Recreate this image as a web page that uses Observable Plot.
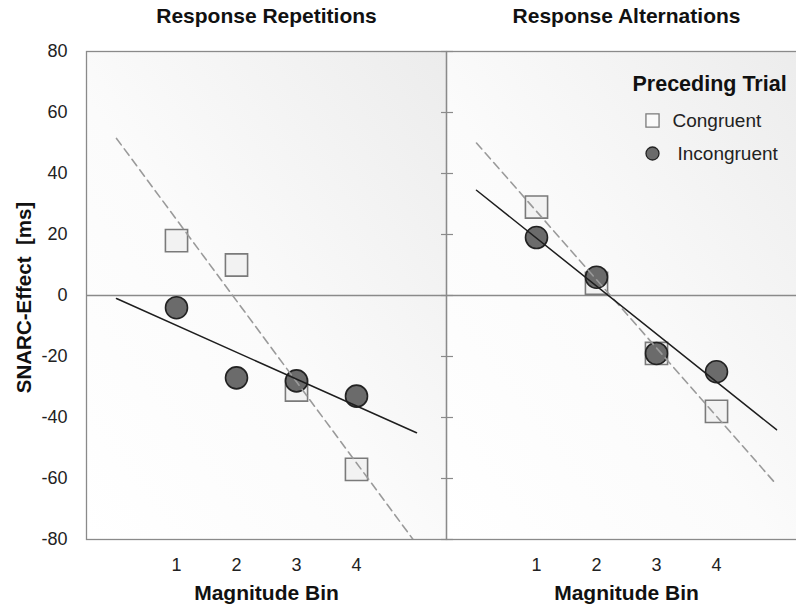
<!DOCTYPE html>
<html>
<head>
<meta charset="utf-8">
<script src="https://cdn.jsdelivr.net/npm/d3@7"></script>
<script src="https://cdn.jsdelivr.net/npm/@observablehq/plot@0.6"></script>
<style>
  html, body { margin: 0; padding: 0; background: #fff; overflow: hidden; width: 796px; height: 607px; }
  #chart svg { display: block; max-width: none !important; }
</style>
</head>
<body>
<div id="chart"></div>
<script>
// ---- data ----
const panels = ["Response Repetitions", "Response Alternations"];
const bins = [1, 2, 3, 4];
const repCongruent = [18, 10, -31, -57];
const repIncongruent = [-4, -27, -28, -33];
const altCongruent = [29, 4, -19, -38];
const altIncongruent = [19, 6, -19, -25];
const yTicks = [-80, -60, -40, -20, 0, 20, 40, 60, 80];
const xLabel = "Magnitude Bin";
const yLabel = "SNARC-Effect  [ms]";
const legendTitle = "Preceding Trial";
const legendLabels = ["Congruent", "Incongruent"];

// ---- build tables ----
const series = [
  {panel: panels[0], cond: "Congruent", values: repCongruent},
  {panel: panels[0], cond: "Incongruent", values: repIncongruent},
  {panel: panels[1], cond: "Congruent", values: altCongruent},
  {panel: panels[1], cond: "Incongruent", values: altIncongruent}
];
const points = series.flatMap(s => s.values.map((v, i) => ({panel: s.panel, cond: s.cond, bin: bins[i], y: v})));

// least-squares trend lines, drawn from bin 0 to bin 5
function fit(xs, ys) {
  const mx = d3.mean(xs), my = d3.mean(ys);
  const b = d3.sum(xs, (x, i) => (x - mx) * (ys[i] - my)) / d3.sum(xs, x => (x - mx) ** 2);
  return {a: my - b * mx, b};
}
const lineExtent = [0, 5];
const trends = series.flatMap(s => {
  const {a, b} = fit(bins, s.values);
  return lineExtent.map(x => ({panel: s.panel, cond: s.cond, bin: x, y: a + b * x}));
});

const cong = points.filter(d => d.cond === "Congruent");
const incong = points.filter(d => d.cond === "Incongruent");
const panelRows = panels.map(p => ({panel: p}));
const legendFacet = [{panel: panels[1]}];
const labelFacet = [{panel: panels[0]}];

const font = "'Liberation Sans', Arial, sans-serif";
const frameGrey = "#8a8a8a";

const plot = Plot.plot({
  width: 806,
  height: 607,
  marginLeft: 86,
  marginRight: 0,
  marginTop: 51,
  marginBottom: 68,
  style: {fontFamily: font, fontSize: "18px", color: "#222", background: "transparent"},
  fx: {domain: panels, paddingInner: 0, paddingOuter: 0, label: null},
  x: {domain: [-0.5, 5.5], ticks: bins, label: null},
  y: {domain: [-80, 80], ticks: yTicks, label: null},
  marks: [
    Plot.frame({fill: "url(#bgGrad)", stroke: "none"}),
    Plot.ruleY([0], {stroke: frameGrey, strokeWidth: 1.3}),
    Plot.frame({stroke: frameGrey, strokeWidth: 1.3}),
    Plot.axisFx({anchor: "top", tickSize: 0, tickPadding: 29, fontWeight: "bold", fontSize: 21, fill: "#111", label: null}),
    Plot.axisY({anchor: "left", ticks: yTicks, tickSize: 0, tickPadding: 19, fontSize: 18, fill: "#222", label: null, tickFormat: d => String(d)}),
    Plot.axisY({anchor: "right", facetAnchor: "left", ticks: yTicks, tickSize: 6, stroke: frameGrey, strokeWidth: 1.2, tickFormat: () => "", label: null}),
    Plot.axisY({anchor: "left", facetAnchor: "right", ticks: yTicks, tickSize: 5, stroke: frameGrey, strokeWidth: 1.2, tickFormat: () => "", label: null}),
    Plot.axisX({anchor: "bottom", ticks: bins, tickSize: 0, tickPadding: 19, fontSize: 18, fill: "#222", label: null, tickFormat: d => String(d)}),
    Plot.text(panelRows, {fx: "panel", text: () => xLabel, frameAnchor: "bottom", lineAnchor: "middle", dy: 54, fontWeight: "bold", fontSize: 21, fill: "#111"}),
    Plot.text(labelFacet, {fx: "panel", text: () => yLabel, frameAnchor: "left", textAnchor: "middle", lineAnchor: "middle", dx: -62, dy: 2, rotate: -90, fontWeight: "bold", fontSize: 20.5, letterSpacing: "0.5px", fill: "#111"}),
    Plot.dot(cong, {fx: "panel", x: "bin", y: "y", symbol: "square", r: 12.5, fill: "#f2f2f2", stroke: "#7a7a7a", strokeWidth: 1.6}),
    Plot.dot(incong, {fx: "panel", x: "bin", y: "y", symbol: "circle", r: 11, fill: "#6b6b6b", stroke: "#222", strokeWidth: 1.6}),
    Plot.line(trends.filter(d => d.cond === "Congruent"), {fx: "panel", x: "bin", y: "y", z: "panel", stroke: "#9a9a9a", strokeWidth: 1.6, strokeDasharray: "8,5", clip: true}),
    Plot.line(trends.filter(d => d.cond === "Incongruent"), {fx: "panel", x: "bin", y: "y", z: "panel", stroke: "#1e1e1e", strokeWidth: 1.5, clip: true}),
    // legend
    Plot.text(legendFacet, {fx: "panel", text: () => legendTitle, frameAnchor: "top-left", lineAnchor: "middle", dx: 186, dy: 33, textAnchor: "start", fontWeight: "bold", fontSize: 21.5, fill: "#111"}),
    Plot.dot(legendFacet, {fx: "panel", frameAnchor: "top-left", dx: 206, dy: 69, symbol: "square", r: 7.4, fill: "#fafafa", stroke: "#7a7a7a", strokeWidth: 1.3}),
    Plot.text(legendFacet, {fx: "panel", text: () => legendLabels[0], frameAnchor: "top-left", lineAnchor: "middle", dx: 226, dy: 69, textAnchor: "start", fontSize: 19, letterSpacing: "0.4px", fill: "#222"}),
    Plot.dot(legendFacet, {fx: "panel", frameAnchor: "top-left", dx: 206, dy: 102, symbol: "circle", r: 6.5, fill: "#6b6b6b", stroke: "#222", strokeWidth: 1.3}),
    Plot.text(legendFacet, {fx: "panel", text: () => legendLabels[1], frameAnchor: "top-left", lineAnchor: "middle", dx: 231, dy: 102, textAnchor: "start", fontSize: 19, letterSpacing: "0.4px", fill: "#222"})
  ]
});

// background gradient definition (white lower-left -> light grey upper-right)
const ns = "http://www.w3.org/2000/svg";
const defs = document.createElementNS(ns, "defs");
defs.innerHTML = '<linearGradient id="bgGrad" x1="0" y1="1" x2="1" y2="0">' +
  '<stop offset="0" stop-color="#ffffff"/><stop offset="0.45" stop-color="#fbfbfb"/><stop offset="1" stop-color="#ececec"/></linearGradient>';
plot.insertBefore(defs, plot.firstChild);

document.getElementById("chart").appendChild(plot);
</script>
</body>
</html>
